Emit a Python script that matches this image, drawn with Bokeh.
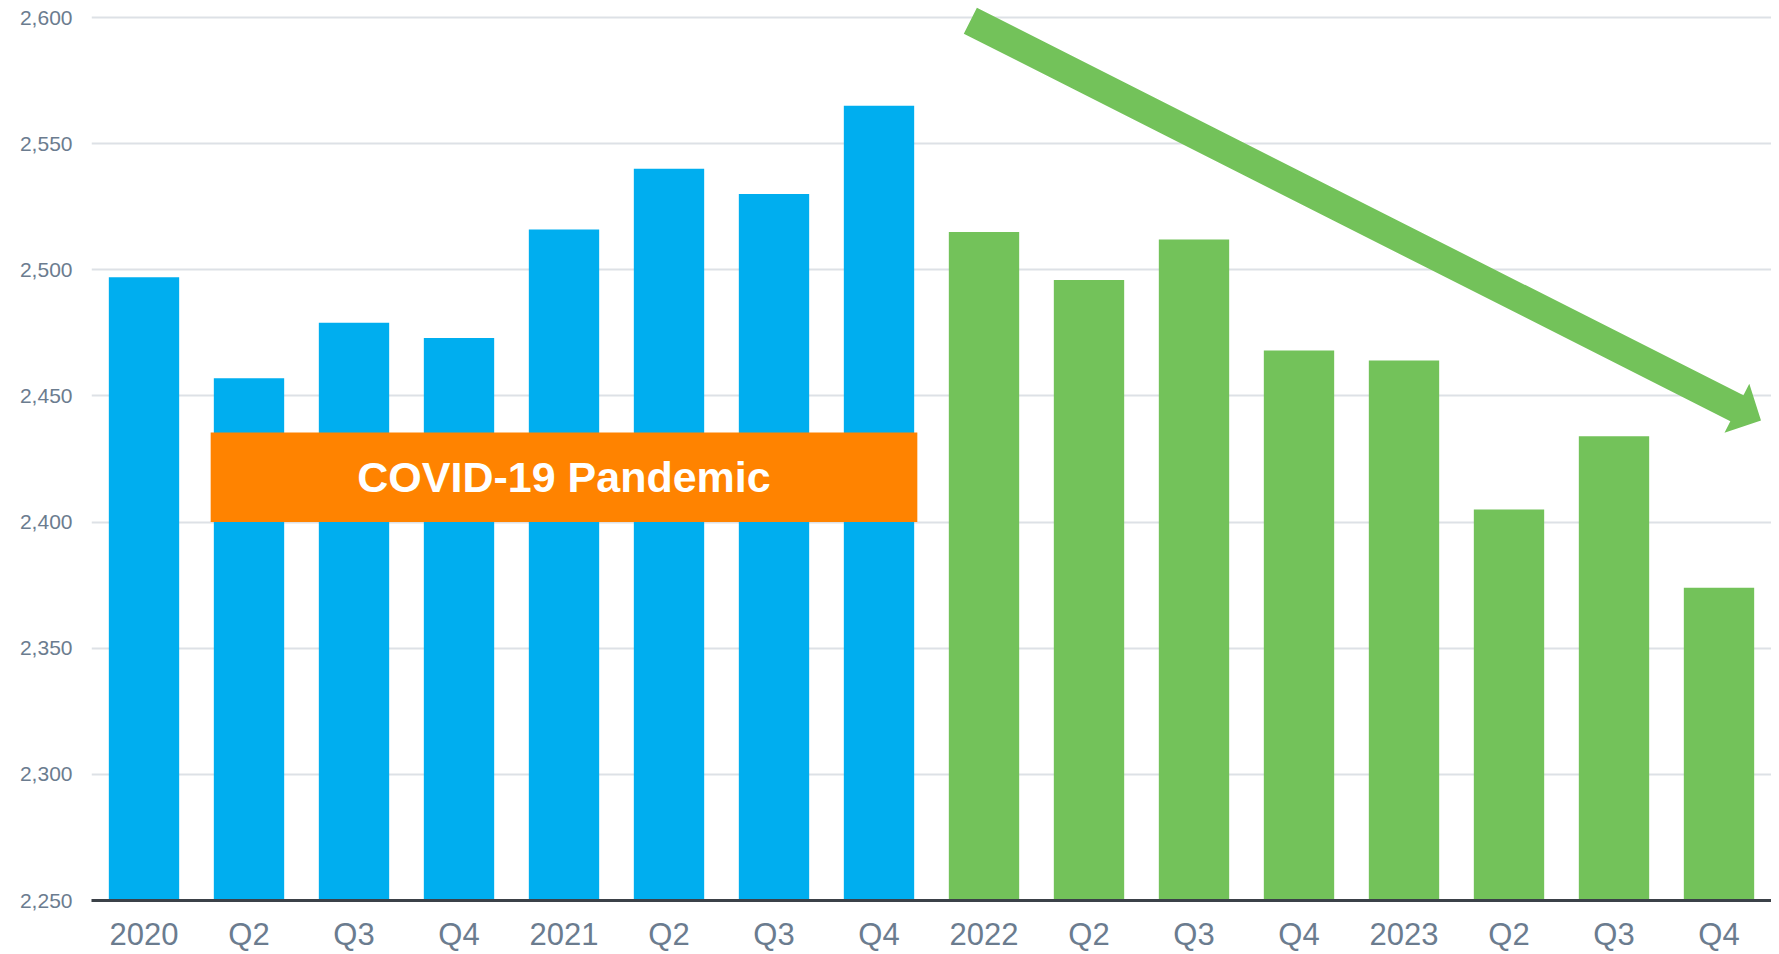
import math
from bokeh.plotting import figure
from bokeh.models import FixedTicker, NumeralTickFormatter
from bokeh.core.properties import value
from bokeh.embed import file_html
from bokeh.resources import INLINE

# ---------------- data ----------------
quarter_labels = ["2020", "Q2", "Q3", "Q4",
                  "2021", "Q2", "Q3", "Q4",
                  "2022", "Q2", "Q3", "Q4",
                  "2023", "Q2", "Q3", "Q4"]
pandemic_values = [2497, 2457, 2479, 2473, 2516, 2540, 2530, 2565]
post_pandemic_values = [2515, 2496, 2512, 2468, 2464, 2405, 2434, 2374]
y_ticks = [2250, 2300, 2350, 2400, 2450, 2500, 2550, 2600]
covid_text = "COVID-19 Pandemic"
covid_first_bar = 1          # index of first bar covered by the band
covid_last_bar = 7           # index of last bar covered by the band
covid_band = (2400, 2435.5)  # value range of the band
trend_start = (8.37, 2598.7)  # (bar position, value)
trend_end = (15.9, 2440.3)

# ---------------- styles ----------------
BLUE = "#00AEEF"
GREEN = "#73C25A"
ORANGE = "#FF8300"
LABEL_COLOR = "#6B7C8F"
GRID_COLOR = "#DDE1E6"
AXIS_COLOR = "#3B4148"
FONT = "Liberation Sans"
BAR_W = 0.67

W, H = 1771, 954
BL, BR, BB = 91, 0, 54
TOP_GAP = 17                                   # px between canvas top and top tick
n = len(quarter_labels)
y_lo, y_top_tick = y_ticks[0], y_ticks[-1]
sy = (H - BB - TOP_GAP) / (y_top_tick - y_lo)  # px per value unit
y_hi = y_top_tick + TOP_GAP / sy
sx = (W - BL - BR) / n                         # px per bar slot

p = figure(width=W, height=H, x_range=(0, n), y_range=(y_lo, y_hi),
           output_backend="svg", toolbar_location=None,
           min_border_left=BL, min_border_right=BR,
           min_border_top=0, min_border_bottom=BB)
p.outline_line_color = None
p.background_fill_color = "white"
p.border_fill_color = "white"

xs_pand = [i + 0.5 for i in range(len(pandemic_values))]
xs_post = [len(pandemic_values) + i + 0.5 for i in range(len(post_pandemic_values))]

p.vbar(x=xs_pand, top=pandemic_values, bottom=y_lo, width=BAR_W,
       fill_color=BLUE, line_color=None)
p.vbar(x=xs_post, top=post_pandemic_values, bottom=y_lo, width=BAR_W,
       fill_color=GREEN, line_color=None)

# COVID band
pad = 0.03
band_left = covid_first_bar + 0.5 - BAR_W / 2 - pad
band_right = covid_last_bar + 0.5 + BAR_W / 2 + pad
p.quad(left=[band_left], right=[band_right], bottom=[covid_band[0]], top=[covid_band[1]],
       fill_color=ORANGE, line_color=None)
p.text(x=[(band_left + band_right) / 2], y=[(covid_band[0] + covid_band[1]) / 2],
       text=[covid_text], text_font=value(FONT), text_font_style="bold",
       text_font_size="43px", text_color="white",
       text_align="center", text_baseline="middle")

# Trend arrow (built in pixel space, converted back to data)
ax0, ay0 = trend_start[0] * sx, trend_start[1] * sy
ax1, ay1 = trend_end[0] * sx, trend_end[1] * sy
L = math.hypot(ax1 - ax0, ay1 - ay0)
ux, uy = (ax1 - ax0) / L, (ay1 - ay0) / L
nx, ny = -uy, ux
hw, head_len, head_hw = 14.5, 27.0, 27.5
bx, by = ax1 - head_len * ux, ay1 - head_len * uy
pts = [(ax0 + hw * nx, ay0 + hw * ny),
       (bx + hw * nx, by + hw * ny),
       (bx + head_hw * nx, by + head_hw * ny),
       (ax1, ay1),
       (bx - head_hw * nx, by - head_hw * ny),
       (bx - hw * nx, by - hw * ny),
       (ax0 - hw * nx, ay0 - hw * ny)]
p.patch(x=[q[0] / sx for q in pts], y=[q[1] / sy for q in pts],
        fill_color=GREEN, line_color=None)

# Axes
p.xaxis.ticker = FixedTicker(ticks=[i + 0.5 for i in range(n)])
p.xaxis.major_label_overrides = {i + 0.5: lab for i, lab in enumerate(quarter_labels)}
p.xaxis.axis_line_color = AXIS_COLOR
p.xaxis.axis_line_width = 3
p.xaxis.major_tick_line_color = None
p.xaxis.minor_tick_line_color = None
p.xaxis.major_tick_out = 0
p.xaxis.major_tick_in = 0
p.xaxis.major_label_standoff = 16
p.xaxis.major_label_text_font = FONT
p.xaxis.major_label_text_font_size = "31px"
p.xaxis.major_label_text_color = LABEL_COLOR

p.yaxis.ticker = FixedTicker(ticks=y_ticks)
p.yaxis.formatter = NumeralTickFormatter(format="0,0")
p.yaxis.axis_line_color = None
p.yaxis.major_tick_line_color = None
p.yaxis.minor_tick_line_color = None
p.yaxis.major_tick_out = 0
p.yaxis.major_tick_in = 0
p.yaxis.major_label_standoff = 19
p.yaxis.major_label_text_font = FONT
p.yaxis.major_label_text_font_size = "21px"
p.yaxis.major_label_text_color = LABEL_COLOR

p.xgrid.grid_line_color = None
p.ygrid.grid_line_color = GRID_COLOR
p.ygrid.grid_line_width = 2

open("out.html", "w").write(file_html(p, INLINE))
